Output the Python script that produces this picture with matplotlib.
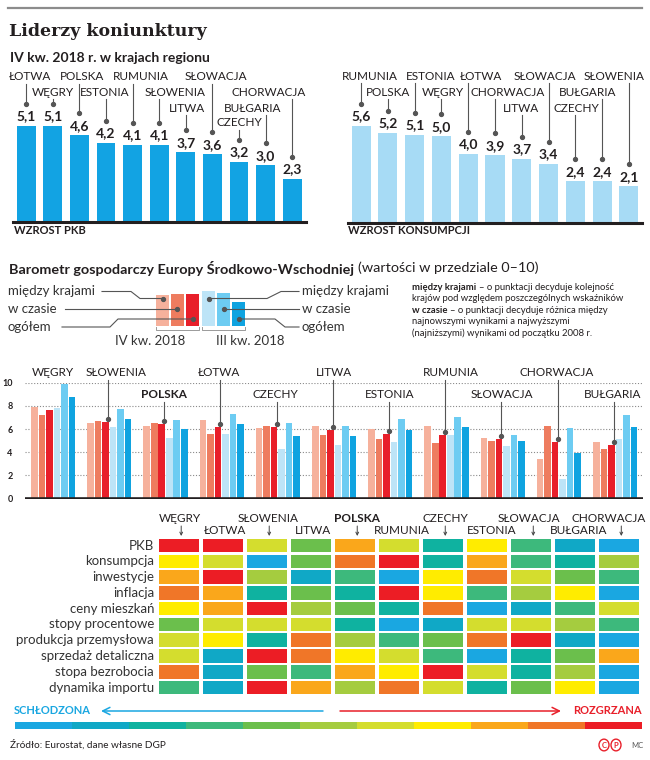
import matplotlib
matplotlib.use('Agg')
import numpy as np
import matplotlib.pyplot as plt
from matplotlib.colors import ListedColormap, BoundaryNorm
from matplotlib.lines import Line2D
from matplotlib.patches import Rectangle, Circle, FancyArrowPatch

plt.rcParams['font.family'] = ['Lato', 'DejaVu Sans']

# ---------------- data ----------------
pkb_countries = ['ŁOTWA', 'WĘGRY', 'POLSKA', 'ESTONIA', 'RUMUNIA', 'SŁOWENIA',
                 'LITWA', 'SŁOWACJA', 'CZECHY', 'BUŁGARIA', 'CHORWACJA']
pkb_values = [5.1, 5.1, 4.6, 4.2, 4.1, 4.1, 3.7, 3.6, 3.2, 3.0, 2.3]

cons_countries = ['RUMUNIA', 'POLSKA', 'ESTONIA', 'WĘGRY', 'ŁOTWA', 'CHORWACJA',
                  'LITWA', 'SŁOWACJA', 'CZECHY', 'BUŁGARIA', 'SŁOWENIA']
cons_values = [5.6, 5.2, 5.1, 5.0, 4.0, 3.9, 3.7, 3.4, 2.4, 2.4, 2.1]

baro_countries = ['WĘGRY', 'SŁOWENIA', 'POLSKA', 'ŁOTWA', 'CZECHY', 'LITWA',
                  'ESTONIA', 'RUMUNIA', 'SŁOWACJA', 'CHORWACJA', 'BUŁGARIA']
q4_between = [7.9, 6.5, 6.3, 6.8, 6.1, 6.3, 6.0, 6.3, 5.2, 3.4, 4.9]
q4_time    = [7.2, 6.7, 6.5, 5.6, 6.3, 5.5, 5.1, 4.8, 5.0, 6.3, 4.3]
q4_total   = [7.6, 6.6, 6.4, 6.2, 6.2, 5.9, 5.6, 5.5, 5.1, 4.9, 4.6]
q3_between = [7.8, 6.2, 5.2, 5.6, 4.3, 4.6, 4.9, 5.5, 4.5, 1.7, 5.1]
q3_time    = [9.9, 7.7, 6.8, 7.3, 6.5, 6.3, 6.9, 7.0, 5.5, 6.1, 7.2]
q3_total   = [8.8, 6.9, 6.0, 6.4, 5.4, 5.4, 5.9, 6.2, 5.0, 3.9, 6.2]

heat_countries = ['WĘGRY', 'ŁOTWA', 'SŁOWENIA', 'LITWA', 'POLSKA', 'RUMUNIA',
                  'CZECHY', 'ESTONIA', 'SŁOWACJA', 'BUŁGARIA', 'CHORWACJA']
heat_rows = ['PKB', 'konsumpcja', 'inwestycje', 'inflacja', 'ceny mieszkań',
             'stopy procentowe', 'produkcja przemysłowa', 'sprzedaż detaliczna',
             'stopa bezrobocia', 'dynamika importu']
h_pkb        = [10, 10, 6, 4, 8, 6, 2, 7, 3, 1, 0]
h_konsumpcja = [7, 6, 0, 4, 9, 10, 2, 8, 3, 2, 5]
h_inwestycje = [8, 10, 5, 1, 3, 0, 7, 9, 6, 4, 3]
h_inflacja   = [9, 8, 2, 4, 2, 10, 7, 3, 5, 7, 0]
h_ceny       = [7, 8, 10, 5, 4, 2, 9, 0, 1, 3, 6]
h_stopy      = [4, 6, 6, 6, 2, 0, 1, 6, 6, 5, 3]
h_produkcja  = [6, 7, 2, 9, 5, 3, 4, 9, 10, 1, 0]
h_sprzedaz   = [6, 1, 10, 9, 7, 6, 3, 0, 2, 4, 8]
h_bezrobocie = [9, 1, 4, 3, 8, 7, 10, 6, 2, 5, 0]
h_import     = [3, 1, 10, 8, 5, 9, 6, 2, 4, 7, 0]
heat_values = [h_pkb, h_konsumpcja, h_inwestycje, h_inflacja, h_ceny, h_stopy,
               h_produkcja, h_sprzedaz, h_bezrobocie, h_import]
scale_levels = list(range(11))

# ---------------- styling ----------------
INK = '#231F20'
GREY = '#555555'
palette = ['#1AA7E1', '#10A8C6', '#0FB2A0', '#3DB97C', '#6BBF4C', '#A5CC3F',
           '#D4DD2E', '#FFEC00', '#FAA71B', '#F07628', '#EC1D25']
bar_colors = ['#F6B19C', '#EE7C5F', '#E81F2A', '#BDE4F7', '#6DCCF2', '#0FA3E0']
BLUE_TXT = '#1AA7E1'
RED_TXT = '#E81F2A'

W, H = 650, 760
fig = plt.figure(figsize=(W / 100, H / 100), dpi=100)
fig.patch.set_facecolor('white')
renderer = fig.canvas.get_renderer()


def fx(x):
    return x / W


def fy(y):
    return 1 - y / H


def add_ax(l, t, r, b):
    return fig.add_axes([fx(l), fy(b), (r - l) / W, (b - t) / H])


def ftext(x, y, s, **kw):
    kw.setdefault('color', INK)
    return fig.text(fx(x), fy(y), s, **kw)


def fline(xs, ys, **kw):
    kw.setdefault('color', GREY)
    kw.setdefault('lw', 0.8)
    fig.add_artist(Line2D([fx(x) for x in xs], [fy(y) for y in ys],
                          transform=fig.transFigure, **kw))


def fdot(x, y, ms=2.8, color=GREY):
    fig.add_artist(Line2D([fx(x)], [fy(y)], transform=fig.transFigure,
                          marker='o', ms=ms, color=color, lw=0))


def px(ax, x, y):
    dx, dy = ax.transData.transform((x, y))
    return dx, H - dy


def rich(x, y, parts, gap=3, **kw):
    for s, w in parts:
        t = ftext(x, y, s, fontweight=w, **kw)
        x += t.get_window_extent(renderer=renderer).width + gap


def farrow(p0, p1, color, scale, lw, style='->'):
    fig.add_artist(FancyArrowPatch((fx(p0[0]), fy(p0[1])), (fx(p1[0]), fy(p1[1])),
                                   transform=fig.transFigure, arrowstyle=style,
                                   mutation_scale=scale, color=color, lw=lw,
                                   shrinkA=0, shrinkB=0))


# ---------------- header ----------------
fline([8, 642], [8, 8], color='#8C8C8C', lw=1.6)
ftext(9, 31, 'Liderzy koniunktury', family='DejaVu Serif', fontweight='bold',
      fontsize=12.5, va='center')
ftext(10, 58, 'IV kw. 2018 r. w krajach regionu', fontweight='bold',
      fontsize=10, va='center')


# ---------------- top ranking charts ----------------
def ranking_chart(l, r, t, b, names, vals, color, lab_y, lab_dx, caption, cap_x):
    ax = add_ax(l, t, r, b)
    idx = list(range(len(vals)))
    ax.bar(idx, vals, width=0.71, color=color)
    ax.set_xlim(-0.5, len(vals) - 0.5)
    ax.set_ylim(0, max(vals))
    ax.axis('off')
    ax.axhline(0, color=INK, lw=2.2, clip_on=False)
    for i, (n, v) in enumerate(zip(names, vals)):
        ax.annotate(f'{v:.1f}'.replace('.', ','), (i, v), xytext=(0, 2.5),
                    textcoords='offset points', ha='center', va='bottom',
                    fontsize=10, fontweight='bold', color=INK)
        cx, ty = px(ax, i, v)
        ftext(cx + lab_dx[i], lab_y[i], n, ha='center', va='center', fontsize=8.5)
        fline([cx, cx], [lab_y[i] + 7, ty - 22])
        fdot(cx, ty - 22)
    ftext(cap_x, 231, caption, fontweight='bold', fontsize=8, va='center')


ranking_chart(12.9, 305.5, 126, 221.7, pkb_countries, pkb_values, '#12A3E3',
              [77, 92, 77, 92, 77, 92, 108, 77, 123, 108, 92],
              [4, 0, 3, -1, 8, 16, 1, 4, 0, -13, -24], 'WZROST PKB', 14)
ranking_chart(347.8, 642.2, 126, 222.5, cons_countries, cons_values, '#A7DBF5',
              [76, 92, 76, 92, 76, 92, 108, 76, 108, 92, 76],
              [9, 0, 16, 1, 13, 13, -1, -4, 1, -14, -15], 'WZROST KONSUMPCJI', 348)

# ---------------- barometr header & legend ----------------
rich(9, 268, [('Barometr gospodarczy Europy Środkowo-Wschodniej', 'bold'),
              ('(wartości w przedziale 0–10)', 'normal')],
     gap=4, fontsize=10.4, va='center')

leg_q4 = [(156, 169, 295), (171, 184, 294), (186, 199, 294)]
leg_q3 = [(202, 215, 291), (217, 230, 293), (232, 245, 302)]
for (x0, x1, top), c in zip(leg_q4 + leg_q3, bar_colors):
    fig.add_artist(Rectangle((fx(x0), fy(326)), (x1 - x0) / W, (326 - top) / H,
                             transform=fig.transFigure, color=c, lw=0))
for x0, x1 in [(156, 199), (202, 245)]:
    fline([x0, x0, x1, x1], [327, 330, 330, 327], color='#9A9A9A', lw=0.7)

lab_kw = dict(fontsize=9.5, va='center', color='#333333')
ftext(8, 291, 'między krajami', **lab_kw)
ftext(8, 309, 'w czasie', **lab_kw)
ftext(8, 327, 'ogółem', **lab_kw)
ftext(302, 291, 'między krajami', **lab_kw)
ftext(302, 309, 'w czasie', **lab_kw)
ftext(302, 327, 'ogółem', **lab_kw)
ftext(150, 341, 'IV kw. 2018', ha='center', **lab_kw)
ftext(250, 341, 'III kw. 2018', ha='center', **lab_kw)

fline([102, 131, 140, 162.5], [291.5, 291.5, 298.5, 298.5])
fdot(162.5, 298.5)
fline([65, 177.5], [309, 309])
fdot(177.5, 309)
fline([62, 110, 118, 192.5], [327, 327, 319, 319])
fdot(192.5, 319)
fline([208.5, 267, 281, 299], [298.5, 298.5, 291.5, 291.5])
fdot(208.5, 298.5)
fline([223.5, 299], [309, 309])
fdot(223.5, 309)
fline([238.5, 275, 285, 299], [319, 319, 327, 327])
fdot(238.5, 319)

note_kw = dict(fontsize=6.8, va='center')
rich(412, 287, [('między krajami', 'bold'), ('– o punktacji decyduje kolejność', 'normal')], **note_kw)
ftext(412, 298.5, 'krajów pod względem poszczególnych wskaźników', **note_kw)
rich(412, 310.5, [('w czasie', 'bold'), ('– o punktacji decyduje różnica między', 'normal')], **note_kw)
ftext(412, 322, 'najnowszymi wynikami a najwyższymi', **note_kw)
ftext(412, 333.5, '(najniższymi) wynikami od początku 2008 r.', **note_kw)

# ---------------- grouped barometer chart ----------------
bax = add_ax(25, 382.7, 643.2, 498.5)
series = [q4_between, q4_time, q4_total, q3_between, q3_time, q3_total]
n = len(baro_countries)
pitch, bw = 0.1335, 0.119
for k, (vals, c) in enumerate(zip(series, bar_colors)):
    bax.bar([i + (k - 2.5) * pitch for i in range(n)], vals, width=bw, color=c, zorder=2)
bax.set_xlim(-0.5, n - 0.5)
bax.set_ylim(0, 10)
for s in bax.spines.values():
    s.set_visible(False)
bax.set_xticks([])
bax.set_yticks(range(0, 11, 2))
bax.set_yticklabels([str(v) for v in range(0, 11, 2)], fontsize=6.5, fontweight='bold', color=INK)
bax.tick_params(length=0, pad=9)
bax.yaxis.grid(True, ls=(0, (1, 1.6)), color='#8A8A8A', lw=0.8)
bax.set_axisbelow(True)
bax.axhline(0, color=INK, lw=2.6, zorder=3)

baro_lab_y = [373, 373, 395, 373, 395, 373, 395, 373, 395, 373, 395]
baro_lab_dx = [0, 8, 0, -1, -1, 1, 1, 6, 0, -1, -1]
for i, name in enumerate(baro_countries):
    w = 'bold' if name == 'POLSKA' else 'normal'
    if i == 0:
        gx, _ = px(bax, i, 0)
        ftext(gx, baro_lab_y[i], name, ha='center', va='center', fontsize=8.5)
        continue
    cx, ty = px(bax, i - 0.5 * pitch, q4_total[i])
    cx += 2.5
    ftext(cx + baro_lab_dx[i], baro_lab_y[i], name, ha='center', va='center',
          fontsize=8.5, fontweight=w)
    fline([cx, cx], [baro_lab_y[i] + 7, ty - 3])
    fdot(cx, ty - 3)

# ---------------- heatmap ----------------
cmap = ListedColormap(palette)
norm = BoundaryNorm(np.arange(-0.5, 11.5, 1), cmap.N)
hax = add_ax(157.2, 537.8, 641.3, 695.4)
for r, row in enumerate(heat_values):
    hax.bar(range(len(row)), [0.857] * len(row), bottom=r - 0.4285, width=0.909,
            color=cmap(norm(row)))
hax.set_xlim(-0.5, 10.5)
hax.set_ylim(9.5, -0.5)
hax.axis('off')

for r, name in enumerate(heat_rows):
    _, yy = px(hax, 0, r)
    ftext(154, yy, name, ha='right', va='center', fontsize=9.5, color='#333333')

col_dx = [1, 2, 1, 2, 2, 3, 2, 4, -2, 3, -11]
for c, name in enumerate(heat_countries):
    xx, _ = px(hax, c, 0)
    w = 'bold' if name == 'POLSKA' else 'normal'
    if c % 2 == 0:
        ftext(xx + col_dx[c], 518, name, ha='center', va='center', fontsize=8.5, fontweight=w)
        farrow((xx + 2, 526), (xx + 2, 536), '#444444', 5, 0.7)
    else:
        ftext(xx + col_dx[c], 531, name, ha='center', va='center', fontsize=8.5, fontweight=w)

# ---------------- scale ----------------
ftext(14, 711, 'SCHŁODZONA', fontweight='bold', fontsize=8, va='center', color=BLUE_TXT)
ftext(642, 711, 'ROZGRZANA', fontweight='bold', fontsize=8, va='center', ha='right', color=RED_TXT)
farrow((323, 711), (101, 711), BLUE_TXT, 13, 1.1)
farrow((340, 711), (561, 711), RED_TXT, 13, 1.1)
sax = add_ax(14.6, 721.7, 641.7, 729.3)
sax.bar(scale_levels, [1] * len(scale_levels), width=1.0, color=cmap(norm(scale_levels)))
sax.set_xlim(-0.5, 10.5)
sax.set_ylim(0, 1)
sax.axis('off')

# ---------------- footer ----------------
ftext(10, 745, 'Źródło: Eurostat, dane własne DGP', fontsize=7.2, va='center')
for cxp, letter in [(604, 'C'), (616, 'P')]:
    fig.add_artist(Circle((fx(cxp), fy(745)), 5 / W, transform=fig.transFigure,
                          fill=False, ec=RED_TXT, lw=1.0))
    ftext(cxp, 745.5, letter, ha='center', va='center', fontsize=5.5,
          fontweight='bold', color=RED_TXT)
ftext(631, 746, 'MC', fontsize=5.5, va='center', color='#555555')

fig.savefig('out.png', dpi=100, facecolor='white')
